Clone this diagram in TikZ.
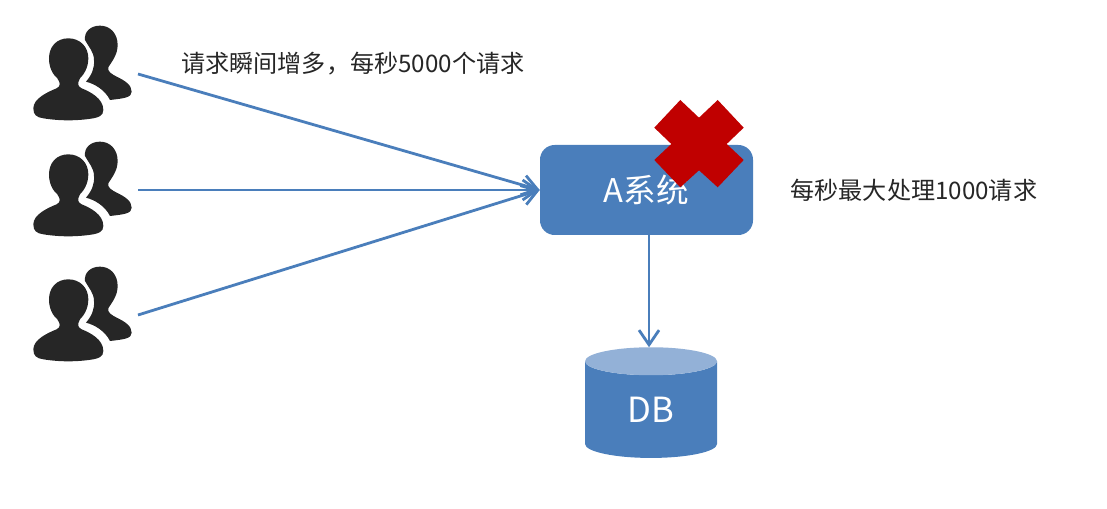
\documentclass[tikz,border=0pt]{standalone}
\usepackage{fontspec}
\setmainfont{Noto Sans CJK SC}
\usetikzlibrary{arrows.meta,positioning,shapes.geometric}
\definecolor{kek}{HTML}{4A7EBB}
\definecolor{halvany}{HTML}{93B1D7}
\definecolor{sotet}{HTML}{262626}
\definecolor{piros}{HTML}{C00000}
\tikzset{
  felirat/.style={inner sep=0pt,text=sotet,font=\fontsize{18.1}{22}\selectfont},
  rendszer/.style={fill=kek,rounded corners=11pt,minimum width=159.75pt,minimum height=67.5pt,
                   inner sep=0pt,text=white,font=\fontsize{24.5}{28}\selectfont},
  tarolo/.style={shape=cylinder,shape border rotate=90,aspect=0.6,cylinder uses custom fill,
                 cylinder body fill=kek,cylinder end fill=halvany,minimum width=99pt,minimum height=83pt,
                 inner sep=0pt,outer sep=0pt,text=white,font=\fontsize{26}{30}\selectfont},
  hely/.style={minimum width=82.5pt,minimum height=72pt,inner sep=0pt,outer sep=0pt},
  nyil/.style={-{Straight Barb[length=11pt,width=15pt,line width=2.1pt]},draw=kek,line width=2.1pt},
  csoport/.pic={
    \begin{scope}[shift={(-63,-64)},scale=0.3333]
    \fill[sotet] (145,85) .. controls (180,85) and (205,110) .. (205,145)
      .. controls (205,175) and (190,195) .. (180,205) .. controls (172,220) and (172,228) .. (185,235)
      .. controls (210,245) and (250,265) .. (250,300) .. controls (250,318) and (235,322) .. (220,325)
      .. controls (170,333) and (120,333) .. (70,325) .. controls (50,322) and (40,315) .. (40,295)
      .. controls (40,265) and (85,245) .. (110,235) .. controls (122,228) and (122,220) .. (112,205)
      .. controls (100,195) and (87,175) .. (87,145) .. controls (87,110) and (110,85) .. (145,85) -- cycle;
    \fill[sotet] (240,47) .. controls (272,47) and (293,72) .. (293,105)
      .. controls (293,135) and (275,155) .. (265,172) .. controls (262,185) and (275,192) .. (290,200)
      .. controls (315,212) and (335,225) .. (335,245) .. controls (335,262) and (315,265) .. (270,270)
      .. controls (255,240) and (225,222) .. (198,215) .. controls (215,195) and (224,175) .. (222,150)
      .. controls (222,125) and (205,110) .. (195,90) .. controls (192,65) and (212,47) .. (240,47) -- cycle;
    \end{scope}
  },
}
\begin{document}
\begin{tikzpicture}[x=0.75pt,y=-0.75pt]
  \useasboundingbox (0,0) rectangle (1107,509);
  \node[hely] (user1) at (83,74) {};
  \node[hely,below=15pt of user1] (user2) {};
  \node[hely,below=21.75pt of user2] (user3) {};
  \pic at (user1) {csoport}; \pic at (user2) {csoport}; \pic at (user3) {csoport};
  \node[felirat,anchor=west] (cimke1) at (181,64) {请求瞬间增多，每秒5000个请求};
  \node[rendszer] (asys) at (646.5,190) {A系统};
  \node[felirat,right=27.75pt of asys] (cimke2) {每秒最大处理1000请求};
  \node[tarolo,below=84pt of asys,xshift=3.4pt] (db) {\raisebox{-1.5pt}{DB}};
  \draw[nyil] (user1.east) -- (asys.west); \draw[nyil] (user2.east) -- (asys.west); \draw[nyil] (user3.east) -- (asys.west);
  \draw[nyil] ([xshift=-1.5pt]db.north |- asys.south) -- ([xshift=-1.5pt]db.north);
  % x over the box
  \fill[piros] (680.3,100) -- (699,117.7) -- (717.7,100) -- (743.7,127.7) -- (726.7,144) -- (743.7,160)
    -- (717.7,187.3) -- (699,170.3) -- (680.3,187.3) -- (654.3,160) -- (671.3,144) -- (654.3,127.7) -- cycle;
\end{tikzpicture}
\end{document}
